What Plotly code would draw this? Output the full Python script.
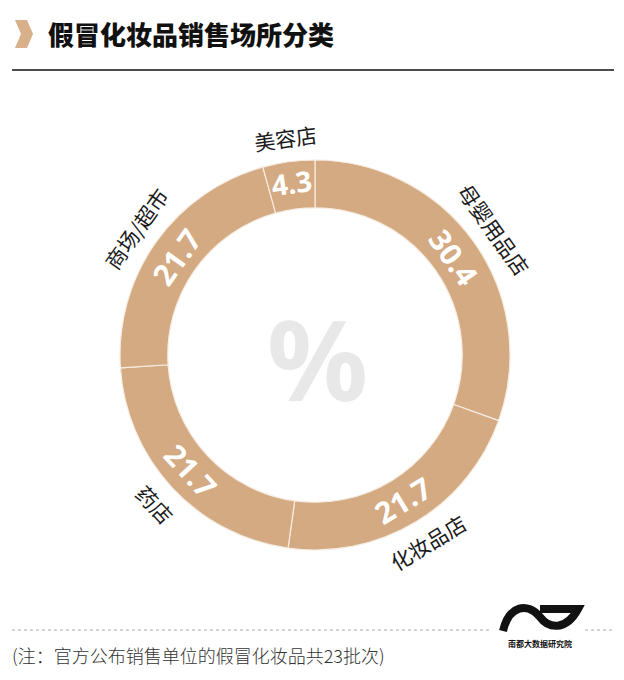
import math
import plotly.graph_objects as go

# ---- data ----
categories = ["母婴用品店", "化妆品店", "药店", "商场/超市", "美容店"]
values = [30.4, 21.7, 21.7, 21.7, 4.3]
title_text = "假冒化妆品销售场所分类"
note_text = "(注：官方公布销售单位的假冒化妆品共23批次)"
logo_text = "南都大数据研究院"

OFF = 8                 # page body margin
FW, FH = 616, 672       # figure size
CX, CY = 315, 355       # donut centre (page px)
R_OUT = 195             # outer radius (px)
HOLE = 0.755
R_LABEL = 219
RING = "#D4AA82"


def px(x):
    return (x - OFF) / FW


def py(y):
    return 1 - (y - OFF) / FH


fig = go.Figure()
fig.add_trace(go.Pie(
    labels=categories,
    values=values,
    sort=False,
    direction="clockwise",
    rotation=0,
    hole=HOLE,
    marker=dict(colors=[RING] * len(values), line=dict(color="#f6ece2", width=1.2)),
    texttemplate="%{value}",
    textposition="inside",
    insidetextorientation="tangential",
    insidetextfont=dict(family="Noto Sans", size=30, color="white", weight="bold"),
    domain=dict(x=[px(CX - R_OUT), px(CX + R_OUT)], y=[py(CY + R_OUT), py(CY - R_OUT)]),
    showlegend=False,
    hoverinfo="label+value",
))

annotations = []
total = sum(values)
cum = 0.0
for lab, v in zip(categories, values):
    mid = (cum + v / 2) / total * 360.0
    cum += v
    rad = math.radians(mid)
    x = CX + R_LABEL * math.sin(rad)
    y = CY - R_LABEL * math.cos(rad)
    ang = mid
    if 90 < mid <= 270:
        ang = mid - 180
    elif mid > 270:
        ang = mid - 360
    annotations.append(dict(
        x=px(x), y=py(y), xref="paper", yref="paper", text=lab, showarrow=False,
        textangle=ang, xanchor="center", yanchor="middle",
        font=dict(family="Noto Sans CJK SC", size=21, color="#1a1a1a"),
    ))

# centre percent sign
annotations.append(dict(
    x=px(CX + 2), y=py(CY + 2), xref="paper", yref="paper", text="%", showarrow=False,
    xanchor="center", yanchor="middle",
    font=dict(family="Noto Sans", size=112, color="#e8e8e8", weight="bold"),
))
# title
annotations.append(dict(
    x=px(46), y=py(34), xref="paper", yref="paper", text=title_text, showarrow=False,
    xanchor="left", yanchor="middle",
    font=dict(family="Noto Sans CJK SC", size=26, color="#111111", weight=900),
))
# note
annotations.append(dict(
    x=px(10), y=py(655), xref="paper", yref="paper", text=note_text, showarrow=False,
    xanchor="left", yanchor="middle",
    font=dict(family="Noto Sans CJK SC", size=18, color="#333333", weight=300),
))
# logo text
annotations.append(dict(
    x=px(540), y=py(643), xref="paper", yref="paper", text=logo_text, showarrow=False,
    xanchor="center", yanchor="middle",
    font=dict(family="Noto Sans CJK SC", size=8, color="#111111", weight="bold"),
))

shapes = []
# chevron
chev = [(15, 20), (27, 20), (33, 34), (27, 48), (15, 48), (21, 34)]
path = "M " + " L ".join(f"{px(a)},{py(b)}" for a, b in chev) + " Z"
shapes.append(dict(type="path", path=path, xref="paper", yref="paper",
                   fillcolor="#D8B08A", line=dict(width=0)))
# title rule
shapes.append(dict(type="line", xref="paper", yref="paper", x0=px(12), x1=px(614),
                   y0=py(70), y1=py(70), line=dict(color="#111111", width=1.5)))
# footer dotted rules
shapes.append(dict(type="line", xref="paper", yref="paper", x0=px(12), x1=px(492),
                   y0=py(630), y1=py(630), line=dict(color="#aaaaaa", width=1, dash="dot")))
shapes.append(dict(type="line", xref="paper", yref="paper", x0=px(585), x1=px(614),
                   y0=py(630), y1=py(630), line=dict(color="#aaaaaa", width=1, dash="dot")))
# logo wave (stroked curve)
def P(a, b):
    return f"{px(a)},{py(b)}"

wpath = (f"M {P(503, 631)} C {P(509, 605)} {P(528, 602)} {P(540, 617)} "
         f"C {P(549, 629)} {P(566, 631)} {P(578, 609)} L {P(540, 609)}")
shapes.append(dict(type="path", path=wpath, xref="paper", yref="paper",
                   line=dict(color="#111111", width=8)))

fig.update_layout(
    width=FW, height=FH, autosize=False,
    margin=dict(l=0, r=0, t=0, b=0),
    paper_bgcolor="white", plot_bgcolor="white",
    annotations=annotations, shapes=shapes,
)

fig.write_html("out.html")
